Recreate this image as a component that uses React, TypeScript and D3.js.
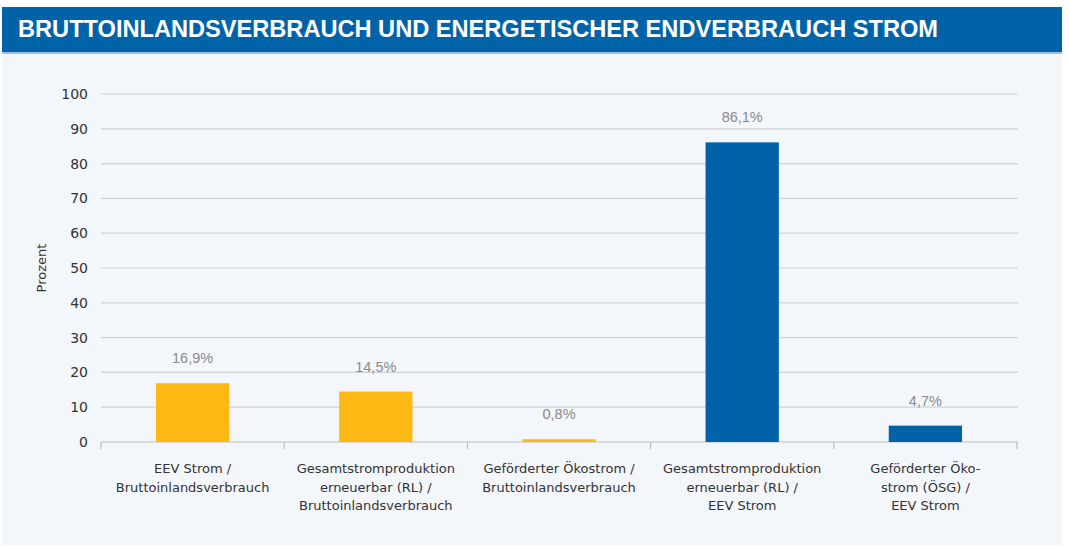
import React from "react";
import * as d3 from "d3";

const title = "BRUTTOINLANDSVERBRAUCH UND ENERGETISCHER ENDVERBRAUCH STROM";
const categories = [
  ["EEV Strom /", "Bruttoinlandsverbrauch"],
  ["Gesamtstromproduktion", "erneuerbar (RL) /", "Bruttoinlandsverbrauch"],
  ["Geförderter Ökostrom /", "Bruttoinlandsverbrauch"],
  ["Gesamtstromproduktion", "erneuerbar (RL) /", "EEV Strom"],
  ["Geförderter Öko-", "strom (ÖSG) /", "EEV Strom"],
];
const values = [16.9, 14.5, 0.8, 86.1, 4.7];
const valueLabels = ["16,9%", "14,5%", "0,8%", "86,1%", "4,7%"];
const barColors = ["#FDB913", "#FDB913", "#FDB913", "#0062A8", "#0062A8"];
const yTicks = [0, 10, 20, 30, 40, 50, 60, 70, 80, 90, 100];

const W = 1069, H = 547;
const TFONT = "'Liberation Sans', Arial, sans-serif";
const FONT = "'DejaVu Sans', Verdana, sans-serif";

export default function App() {
  const x = d3.scaleBand<number>().domain(d3.range(categories.length)).range([101, 1017]);
  const y = d3.scaleLinear().domain([0, 100]).range([442, 94]);
  const bw = x.bandwidth() * 0.4;
  return (
    <svg width={W} height={H} style={{ position: "absolute", left: 0, top: 0 }}>
      <rect x={0} y={0} width={W} height={H} fill="#fff" />
      <rect x={2} y={53} width={1060} height={492} fill="#F3F6FA" />
      <rect x={2} y={7} width={1060} height={45} fill="#0063A7" />
      <rect x={2} y={52} width={1060} height={2} fill="#9CC0DE" />
      <text x={18} y={37} fill="#fff" fontFamily={TFONT} fontWeight="bold" fontSize={23}
        textLength={920} lengthAdjust="spacingAndGlyphs">{title}</text>
      {yTicks.map((t) => (
        <g key={t}>
          <line x1={101} x2={1018} y1={y(t)} y2={y(t)} stroke={t === 0 ? "#b9bec4" : "#cfd3d8"} strokeWidth={1.2} />
          <text x={88} y={y(t) + 5} textAnchor="end" fontFamily={FONT} fontSize={14} fill="#333">{t}</text>
        </g>
      ))}
      {d3.range(categories.length + 1).map((i) => {
        const xx = i < categories.length ? x(i)! : 1017;
        return <line key={i} x1={xx} x2={xx} y1={442} y2={449} stroke="#b9bec4" strokeWidth={1.2} />;
      })}
      <text transform={`translate(46,268) rotate(-90)`} textAnchor="middle" fontFamily={FONT} fontSize={13} fill="#333">Prozent</text>
      {values.map((v, i) => {
        const cx = x(i)! + x.bandwidth() / 2;
        return (
          <g key={i}>
            <rect x={cx - bw / 2} y={y(v)} width={bw} height={y(0) - y(v)} fill={barColors[i]} />
            <text x={cx} y={y(v) - 20} textAnchor="middle" fontFamily={TFONT} fontSize={14.5} fill="#8a8a8a">{valueLabels[i]}</text>
            {categories[i].map((line, j) => (
              <text key={j} x={cx} y={473 + j * 18.5} textAnchor="middle" fontFamily={FONT} fontSize={13} fill="#333">{line}</text>
            ))}
          </g>
        );
      })}
    </svg>
  );
}
